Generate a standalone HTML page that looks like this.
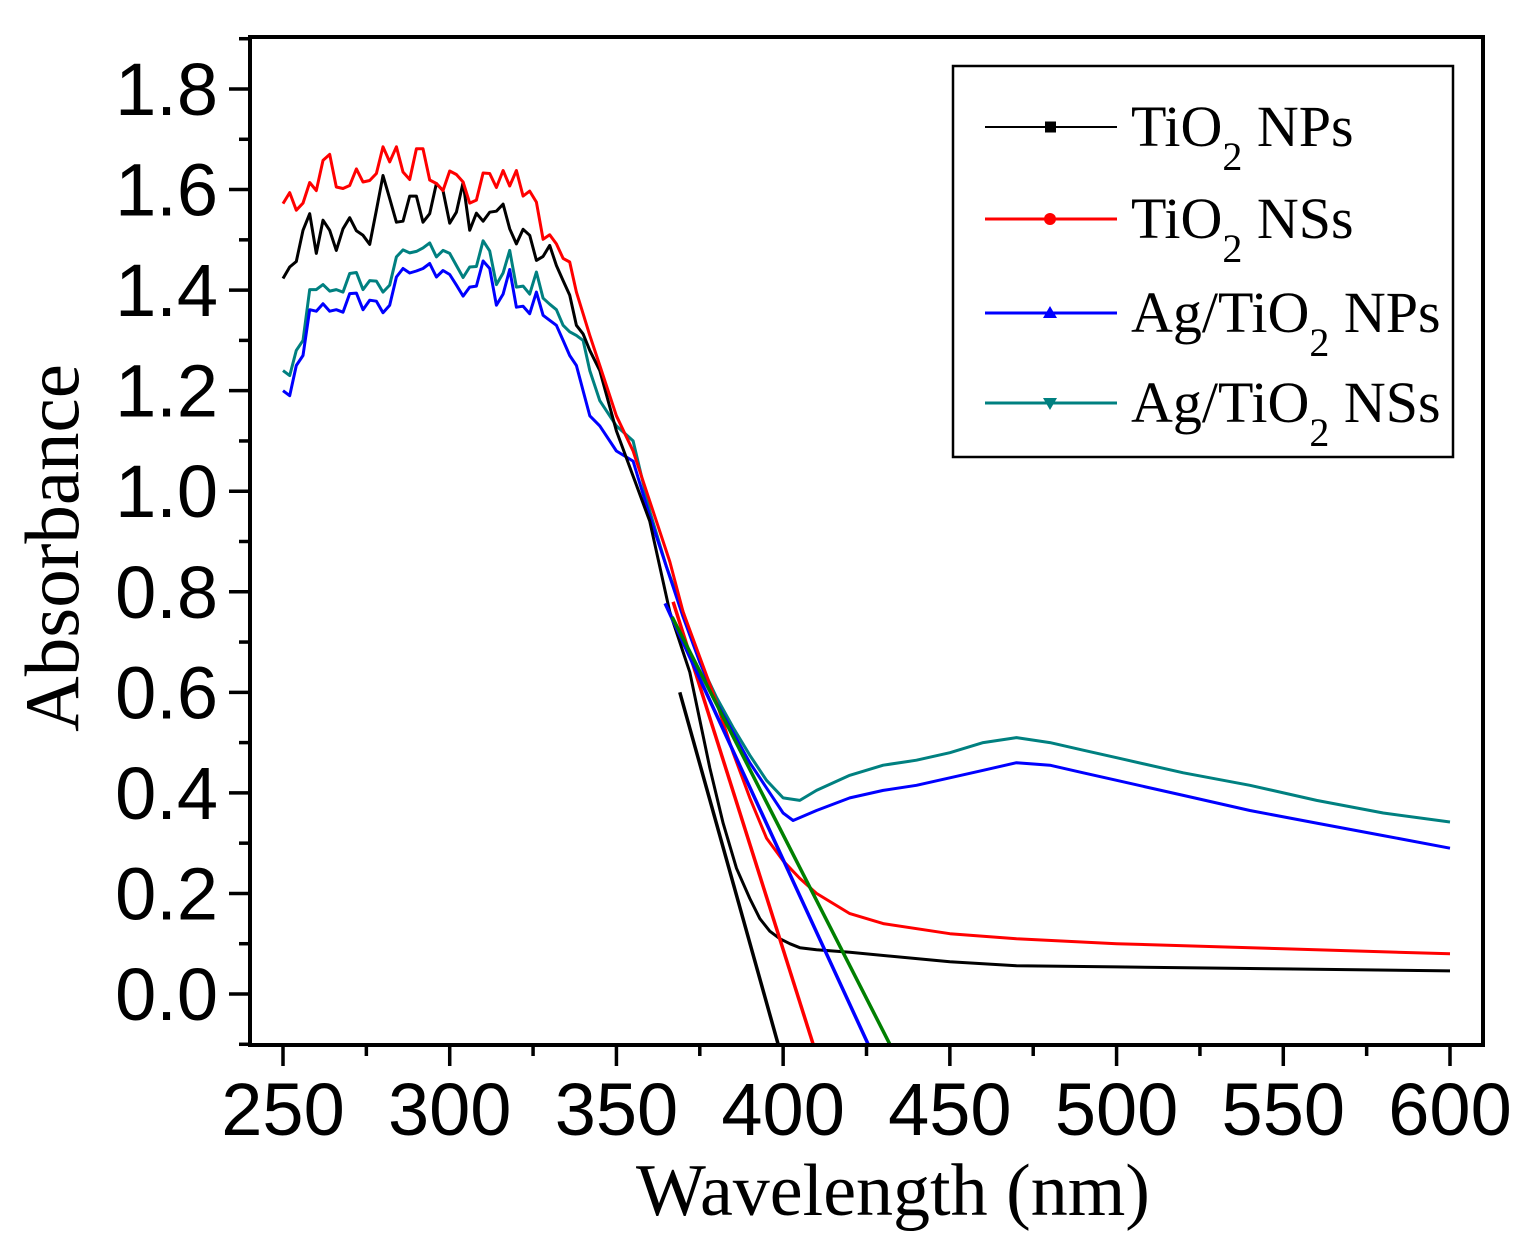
<!DOCTYPE html>
<html><head><meta charset="utf-8"><style>
html,body{margin:0;padding:0;background:#fff;}
svg{display:block;}
.tk{font-family:"Liberation Sans",sans-serif;font-size:74px;fill:#000;}
.sr{font-family:"Liberation Serif",serif;fill:#000;}
</style></head><body>
<svg id="chart" width="1532" height="1255" viewBox="0 0 1532 1255" xmlns="http://www.w3.org/2000/svg">
<g id="plot"></g>
<g id="axes"></g>
<text class="sr" x="893" y="1215" font-size="74" text-anchor="middle">Wavelength (nm)</text>
<text class="sr" transform="translate(78,548) rotate(-90)" font-size="77" text-anchor="middle">Absorbance</text>
<g id="legend"></g>
</svg>
<script>
const xTicks=[250,300,350,400,450,500,550,600];
const yTicks=[0.0,0.2,0.4,0.6,0.8,1.0,1.2,1.4,1.6,1.8];
const seriesNames=["TiO2 NPs","TiO2 NSs","Ag/TiO2 NPs","Ag/TiO2 NSs"];
const seriesColors=["#000000","#ff0000","#0000ff","#008080"];
const noisyWl=[250,252,254,256,258,260,262,264,266,268,270,272,274,276,278,280,282,284,286,288,290,292,294,296,298,300,302,304,306,308,310,312,314,316,318,320,322,324,326,328,330,332,334,336,338,340,342];
const blackNoisy=[1.423,1.446,1.457,1.519,1.552,1.473,1.539,1.519,1.479,1.522,1.544,1.518,1.509,1.491,1.559,1.628,1.582,1.535,1.537,1.587,1.587,1.535,1.552,1.612,1.598,1.533,1.555,1.614,1.519,1.553,1.537,1.555,1.557,1.571,1.522,1.492,1.521,1.509,1.459,1.467,1.489,1.449,1.419,1.390,1.330,1.313,1.28];
const redNoisy=[1.572,1.594,1.559,1.573,1.614,1.598,1.658,1.670,1.605,1.602,1.608,1.641,1.615,1.618,1.632,1.685,1.655,1.685,1.635,1.620,1.681,1.681,1.619,1.612,1.598,1.637,1.630,1.615,1.573,1.579,1.633,1.632,1.604,1.638,1.607,1.638,1.587,1.597,1.575,1.501,1.510,1.492,1.463,1.456,1.396,1.353,1.310];
const blueNoisy=[1.20,1.19,1.25,1.27,1.361,1.358,1.373,1.358,1.361,1.356,1.393,1.394,1.361,1.380,1.378,1.355,1.370,1.426,1.443,1.434,1.438,1.443,1.453,1.426,1.439,1.431,1.410,1.388,1.406,1.408,1.458,1.443,1.370,1.392,1.441,1.366,1.368,1.353,1.396,1.350,1.340,1.330,1.300,1.27,1.25,1.20,1.15];
const tealNoisy=[1.24,1.23,1.28,1.30,1.401,1.401,1.411,1.398,1.401,1.396,1.433,1.435,1.401,1.419,1.418,1.396,1.410,1.466,1.480,1.474,1.477,1.484,1.494,1.466,1.479,1.473,1.449,1.425,1.446,1.447,1.498,1.478,1.411,1.434,1.479,1.406,1.408,1.392,1.436,1.384,1.372,1.361,1.330,1.317,1.310,1.300,1.24];
const blackTailWl=[345,350,355,360,366,370,372,378,382,386,390,393,396,399,402,405,410,420,450,470,500,550,600];
const blackTail=[1.24,1.12,1.03,0.94,0.76,0.68,0.64,0.45,0.34,0.25,0.19,0.15,0.125,0.11,0.10,0.092,0.088,0.083,0.064,0.056,0.054,0.050,0.046];
const redTailWl=[345,350,355,360,366,370,375,380,385,390,395,400,405,410,420,430,450,470,500,550,600];
const redTail=[1.25,1.15,1.08,0.98,0.86,0.76,0.67,0.58,0.48,0.39,0.31,0.265,0.23,0.20,0.16,0.14,0.12,0.11,0.10,0.09,0.08];
const blueTailWl=[345,350,355,360,365,370,375,380,385,390,395,400,403,410,420,430,440,450,460,470,480,490,500,520,540,560,580,600];
const blueTail=[1.13,1.08,1.06,0.95,0.85,0.75,0.66,0.58,0.52,0.46,0.41,0.36,0.345,0.365,0.39,0.405,0.415,0.43,0.445,0.46,0.455,0.44,0.425,0.395,0.365,0.34,0.315,0.29];
const tealTailWl=[345,350,355,360,365,370,375,380,385,390,395,400,405,410,420,430,440,450,460,470,480,490,500,520,540,560,580,600];
const tealTail=[1.18,1.13,1.10,0.96,0.85,0.76,0.66,0.59,0.53,0.475,0.425,0.39,0.385,0.405,0.435,0.455,0.465,0.48,0.50,0.51,0.50,0.485,0.47,0.44,0.415,0.385,0.36,0.342];
const fitStartWl=[369,367,364.6,366.7];
const fitStartVal=[0.60,0.78,0.777,0.75];
const fitEndWl=[398.5,409,425.5,432];
const fitEndVal=[-0.10,-0.10,-0.10,-0.10];
const fitColors=["#000000","#ff0000","#0000ff","#008000"];

const NS="http://www.w3.org/2000/svg";
const L=250,R=1483,T=37,B=1045;
function sx(v){return 283+(v-250)*(1450-283)/350;}
function sy(v){return 994-v*(994-89)/1.8;}
function mk(tag,attrs,parent){const e=document.createElementNS(NS,tag);for(const k in attrs)e.setAttribute(k,attrs[k]);parent.appendChild(e);return e;}
const plot=document.getElementById('plot'),axes=document.getElementById('axes'),legend=document.getElementById('legend');
const clip=mk('clipPath',{id:'clp'},plot);mk('rect',{x:L,y:T,width:R-L,height:B-T},clip);
const data=[[noisyWl.concat(blackTailWl),blackNoisy.concat(blackTail)],[noisyWl.concat(redTailWl),redNoisy.concat(redTail)],[noisyWl.concat(blueTailWl),blueNoisy.concat(blueTail)],[noisyWl.concat(tealTailWl),tealNoisy.concat(tealTail)]];
const order=[3,2,0,1];
order.forEach(i=>{
 const [xs,ys]=data[i];
 const p=mk('polyline',{points:xs.map((x,j)=>sx(x).toFixed(1)+','+sy(ys[j]).toFixed(1)).join(' '),fill:'none',stroke:seriesColors[i],'stroke-width':3,'stroke-linejoin':'round','clip-path':'url(#clp)'},plot);
 
 
});
fitColors.forEach((c,i)=>{
 const f=mk('line',{x1:sx(fitStartWl[i]),y1:sy(fitStartVal[i]),x2:sx(fitEndWl[i]),y2:sy(fitEndVal[i]),stroke:c,'stroke-width':3.5,'clip-path':'url(#clp)'},plot);
 
 
});
const frame=mk('rect',{x:L,y:T,width:R-L,height:B-T,fill:'none',stroke:'#000','stroke-width':4},axes);


for(let k=0;k<=15;k++){const v=225+k*25;const x=sx(v);if(x<L||x>R)continue;const major=(v%50)===0;mk('line',{x1:x,y1:B,x2:x,y2:B+(major?21:11),stroke:'#000','stroke-width':3.5},axes);}
for(let k=-1;k<=19;k++){const v=k*0.1;const y=sy(v);if(y<T||y>B)continue;const major=k%2===0;mk('line',{x1:L,y1:y,x2:L-(major?21:11),y2:y,stroke:'#000','stroke-width':3.5},axes);}
xTicks.forEach(v=>{const t=mk('text',{x:sx(v),y:1135,'text-anchor':'middle',class:'tk'},axes);t.textContent=v;
 
 });
yTicks.forEach(v=>{const t=mk('text',{x:218,y:sy(v)+26,'text-anchor':'end',class:'tk'},axes);t.textContent=v.toFixed(1);
 
 });
const lb=mk('rect',{x:953,y:66,width:500,height:391,fill:'#fff',stroke:'#000','stroke-width':2.5},legend);


const ly=[127,219,313,403];
const pre=["TiO","TiO","Ag/TiO","Ag/TiO"],post=[" NPs"," NSs"," NPs"," NSs"];
seriesNames.forEach((n,i)=>{
 const g=mk('g',{},legend);
 
 
 mk('line',{x1:985,y1:ly[i],x2:1117,y2:ly[i],stroke:seriesColors[i],'stroke-width':i===0?2:3},g);
 if(i===0)mk('rect',{x:1045,y:ly[i]-5.5,width:11,height:11,fill:'#000'},g);
 else if(i===1)mk('circle',{cx:1050,cy:ly[i],r:6,fill:'#f00'},g);
 else if(i===2)mk('polygon',{points:`1050,${ly[i]-7} 1057,${ly[i]+5} 1043,${ly[i]+5}`,fill:seriesColors[i]},g);
 else mk('polygon',{points:`1050,${ly[i]+7} 1057,${ly[i]-5} 1043,${ly[i]-5}`,fill:seriesColors[i]},g);
 const t=mk('text',{x:1131,y:ly[i]+19,class:'sr','font-size':58},g);
 const a=mk('tspan',{},t);a.textContent=pre[i];
 const b=mk('tspan',{dy:24,'font-size':40},t);b.textContent='2';
 const c=mk('tspan',{dy:-24},t);c.textContent=post[i];
});
</script>
</body></html>
